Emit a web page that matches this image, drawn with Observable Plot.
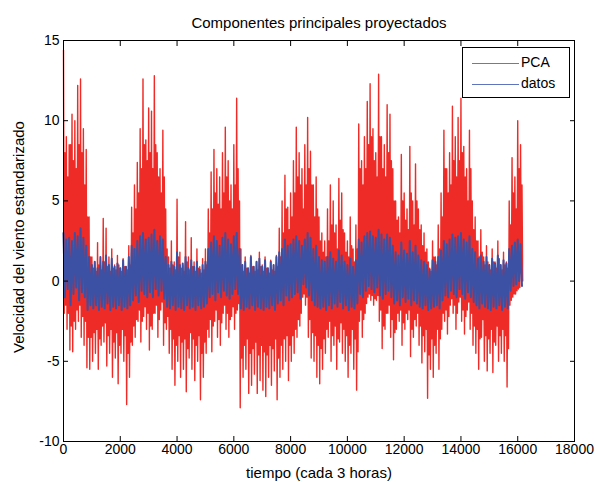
<!DOCTYPE html>
<html>
<head>
<meta charset="utf-8">
<script src="https://cdn.jsdelivr.net/npm/d3@7"></script>
<script src="https://cdn.jsdelivr.net/npm/@observablehq/plot@0.6"></script>
<style>
  body { margin: 0; background: #fff; }
  #wrap { position: relative; width: 597px; height: 482px; font-family: "Liberation Sans", Arial, sans-serif; }
  #legend { position: absolute; left: 462px; top: 47px; width: 106px; height: 49px; border: 1px solid #000; background: #fff; }
  .lg-row { position: absolute; left: 0; height: 20px; font-size: 14px; color: #000; }
  .lg-line { position: absolute; left: 9px; width: 47px; height: 0; top: 10px; }
  .lg-text { position: absolute; left: 58px; top: 1px; white-space: nowrap; }
</style>
</head>
<body>
<div id="wrap">
  <div id="chart"></div>
  <div id="legend">
    <div class="lg-row" style="top:5px"><div class="lg-line" style="border-top:1px solid #f04a44"></div><div class="lg-text">PCA</div></div>
    <div class="lg-row" style="top:26px"><div class="lg-line" style="border-top:1px solid #6073bd"></div><div class="lg-text">datos</div></div>
  </div>
</div>
<script>
// ---- data (samples every 100 time steps) ----
const title = "Componentes principales proyectados";
const xLabel = "tiempo (cada 3 horas)";
const yLabel = "Velocidad del viento estandarizado";
const seriesNames = ["PCA", "datos"];
const xTicks = [0, 2000, 4000, 6000, 8000, 10000, 12000, 14000, 16000, 18000];
const yTicks = [-10, -5, 0, 5, 10, 15];
const sampleStep = 100;

// PCA: highest spike in each 100-step window
const pcaHigh = [
  14.4, 9.0, 8.5, 10.4, 10.0, 12.2, 12.6, 9.5, 8.2, 4.0,
  1.5, 1.2, 2.4, 1.0, 3.9, 3.3, 1.5, 2.0, 1.0, 1.6,
  0.8, 1.4, 0.9, 2.2, 4.6, 6.0, 7.4, 9.5, 12.6, 8.8,
  10.8, 10.6, 12.8, 8.0, 7.0, 9.4, 4.5, 1.5, 2.5, 1.2,
  5.1, 1.8, 1.0, 3.7, 1.5, 2.7, 1.2, 2.0, 0.9, 1.4,
  2.0, 4.5, 6.8, 8.2, 7.0, 6.5, 8.0, 9.6, 7.5, 6.0,
  8.5, 11.4, 5.0, 1.0, 1.5, 0.8, 1.6, 0.9, 1.2, 1.8,
  1.0, 1.5, 0.8, 1.3, 1.0, 1.6, 3.3, 5.0, 6.6, 4.6,
  5.5, 7.5, 9.6, 8.0, 7.0, 8.5, 10.2, 8.1, 6.0, 6.5,
  4.0, 3.0, 2.5, 4.5, 6.0, 5.0, 3.5, 6.4, 5.5, 3.0,
  2.5, 4.0, 2.0, 3.5, 9.8, 7.5, 9.0, 11.2, 12.3, 9.5,
  8.0, 12.9, 9.0, 8.5, 11.0, 10.4, 7.0, 5.0, 4.0, 7.9,
  5.5, 4.5, 8.4, 5.0, 7.3, 4.5, 3.5, 3.0, 2.0, 0.8,
  2.5, 1.5, 3.5, 5.5, 9.4, 7.0, 8.0, 10.9, 9.0, 10.2,
  11.4, 8.4, 7.0, 9.4, 5.0, 4.0, 2.5, 3.2, 1.5, 2.2,
  1.0, 2.0, 1.2, 2.5, 1.0, 1.8, 1.2, 5.0, 7.7, 6.5,
  10.0, 8.5
];
// PCA: lowest spike in each window
const pcaLow = [
  -2.0, -3.0, -4.3, -4.4, -3.0, -2.5, -3.5, -4.0, -5.4, -5.5,
  -5.0, -4.5, -5.5, -4.0, -3.8, -5.3, -4.5, -6.0, -4.8, -6.4,
  -4.5, -5.0, -7.7, -6.0, -4.0, -3.5, -2.5, -3.8, -2.2, -3.0,
  -4.3, -3.0, -2.0, -3.5, -1.8, -4.0, -3.0, -4.5, -5.5, -6.5,
  -5.0, -6.0, -5.5, -6.9, -4.8, -5.5, -6.2, -5.0, -7.4, -6.0,
  -4.5, -3.5, -4.4, -2.5, -3.5, -4.0, -2.0, -3.0, -3.5, -2.2,
  -3.0, -1.8, -7.9, -6.0, -5.5, -7.0, -6.5, -5.8, -7.0, -6.2,
  -6.8, -7.2, -6.0, -6.5, -5.6, -7.4, -6.0, -5.5, -5.0, -6.2,
  -5.0, -4.5, -3.5, -2.8, -1.0, -1.5, -3.5, -4.8, -5.0, -6.0,
  -6.4, -5.5, -4.5, -3.5, -5.0, -4.0, -5.5, -3.8, -4.5, -5.0,
  -6.0, -4.5, -5.5, -6.8, -2.5, -3.5, -2.0, -1.0, -1.2, -1.5,
  -1.2, -2.5, -4.2, -3.0, -2.0, -3.5, -4.9, -3.0, -2.5, -4.0,
  -3.0, -2.4, -4.7, -3.5, -2.8, -4.0, -5.1, -4.4, -7.3, -5.5,
  -6.0, -4.5, -5.5, -3.0, -2.5, -3.3, -1.5, -2.0, -3.0, -1.3,
  -2.5, -3.3, -1.8, -3.0, -4.0, -4.5, -5.5, -3.5, -5.0, -5.6,
  -4.5, -5.7, -4.0, -5.0, -4.5, -5.0, -6.6, -1.5, -1.0, -0.8,
  -0.5, 0.5
];
// PCA: typical (dense) upper level in each window
const pcaMidHigh = [
  8.0, 6.5, 8.5, 7.5, 7.0, 8.5, 8.0, 6.0, 4.0, 1.5,
  0.8, 0.6, 1.0, 0.7, 1.2, 0.9, 0.6, 0.8, 0.7, 1.0,
  0.6, 0.9, 0.7, 1.0, 3.0, 4.5, 5.5, 7.0, 8.5, 7.5,
  8.0, 7.0, 8.5, 6.5, 5.5, 6.5, 2.0, 0.8, 1.0, 0.7,
  1.5, 0.8, 0.6, 1.2, 0.7, 0.9, 0.6, 0.8, 0.5, 0.7,
  1.0, 3.0, 4.5, 5.5, 4.8, 4.5, 5.5, 6.5, 5.0, 4.5,
  6.0, 7.0, 2.0, 0.6, 0.8, 0.5, 0.9, 0.6, 0.7, 0.9,
  0.6, 0.8, 0.5, 0.7, 0.6, 0.9, 1.5, 3.0, 4.5, 3.2,
  4.0, 5.5, 6.5, 6.0, 4.5, 6.0, 7.0, 6.0, 4.0, 4.5,
  2.5, 1.8, 1.5, 2.5, 3.5, 3.0, 2.0, 3.8, 3.2, 1.8,
  1.5, 2.2, 1.2, 2.0, 7.0, 6.0, 7.0, 8.5, 9.0, 7.5,
  6.5, 9.0, 7.0, 6.5, 8.0, 7.5, 5.0, 3.8, 3.0, 5.0,
  3.8, 3.2, 5.5, 3.5, 5.0, 3.2, 2.2, 1.8, 1.2, 0.6,
  1.5, 1.0, 2.0, 4.0, 7.0, 5.5, 6.0, 7.5, 6.5, 7.5,
  8.0, 6.5, 5.0, 7.0, 3.2, 2.5, 1.5, 1.8, 1.0, 1.2,
  0.7, 1.2, 0.8, 1.4, 0.7, 1.0, 0.8, 3.5, 5.5, 4.5,
  7.0, 6.0
];
// PCA: typical (dense) lower level in each window
const pcaMidLow = [
  -1.5, -2.0, -2.8, -2.5, -1.8, -1.5, -2.2, -2.5, -3.5, -3.5,
  -3.2, -3.0, -3.6, -2.8, -2.6, -3.4, -3.0, -3.8, -3.2, -4.0,
  -3.0, -3.4, -4.5, -3.8, -2.8, -2.4, -1.8, -2.5, -1.6, -2.0,
  -2.8, -2.0, -1.5, -2.4, -1.3, -2.6, -2.2, -3.0, -3.6, -4.0,
  -3.4, -3.8, -3.6, -4.2, -3.2, -3.6, -4.0, -3.4, -4.5, -3.8,
  -3.0, -2.4, -2.8, -1.8, -2.4, -2.6, -1.5, -2.0, -2.4, -1.6,
  -2.0, -1.4, -4.8, -4.0, -3.6, -4.5, -4.2, -3.8, -4.6, -4.0,
  -4.4, -4.6, -4.0, -4.2, -3.6, -4.8, -4.0, -3.6, -3.4, -4.0,
  -3.4, -3.0, -2.4, -2.0, -0.8, -1.0, -2.4, -3.2, -3.4, -4.0,
  -4.2, -3.6, -3.0, -2.5, -3.4, -2.8, -3.6, -2.6, -3.0, -3.4,
  -4.0, -3.0, -3.6, -4.4, -1.8, -2.4, -1.4, -0.8, -0.9, -1.1,
  -0.9, -1.8, -2.8, -2.0, -1.5, -2.4, -3.2, -2.0, -1.8, -2.6,
  -2.0, -1.8, -3.0, -2.4, -2.0, -2.8, -3.4, -3.0, -4.6, -3.6,
  -4.0, -3.0, -3.6, -2.0, -1.8, -2.2, -1.1, -1.5, -2.0, -1.0,
  -1.8, -2.2, -1.3, -2.0, -2.8, -3.0, -3.6, -2.4, -3.4, -3.6,
  -3.0, -3.8, -2.8, -3.4, -3.0, -3.4, -4.2, -1.2, -0.8, -0.6,
  -0.4, 0.0
];
// datos: upper level in each window
const datosHigh = [
  3.0, 2.6, 2.7, 2.5, 3.0, 2.8, 3.3, 2.7, 2.2, 1.5,
  1.0, 1.2, 0.8, 1.5, 1.2, 1.6, 1.0, 1.4, 0.9, 1.1,
  0.8, 1.3, 0.9, 1.5, 2.2, 2.0, 2.5, 2.8, 3.0, 2.6,
  2.7, 2.9, 3.2, 2.5, 2.8, 2.6, 1.5, 1.0, 1.2, 0.9,
  1.8, 1.0, 1.1, 1.5, 0.8, 1.3, 0.9, 1.2, 0.7, 1.0,
  1.2, 2.0, 2.4, 2.8, 2.5, 2.2, 2.7, 3.0, 2.6, 2.3,
  2.8, 3.0, 2.0, 1.0, 1.2, 0.8, 1.5, 0.9, 1.2, 1.4,
  0.9, 1.3, 0.8, 1.2, 1.0, 1.5, 1.8, 2.0, 2.6, 2.2,
  2.3, 2.6, 2.8, 2.5, 2.2, 2.6, 3.0, 2.7, 2.0, 2.2,
  1.5, 1.3, 1.2, 1.5, 1.8, 1.4, 1.2, 1.9, 1.6, 1.2,
  1.0, 1.4, 0.9, 1.3, 2.6, 2.4, 2.8, 3.0, 3.1, 2.8,
  2.7, 3.2, 2.9, 2.6, 2.9, 2.7, 2.2, 1.8, 1.6, 2.4,
  1.9, 1.7, 2.5, 1.8, 2.2, 1.6, 1.3, 1.2, 1.0, 0.7,
  1.3, 1.2, 1.5, 1.9, 2.5, 2.3, 2.6, 2.9, 2.7, 2.8,
  3.0, 2.6, 2.4, 2.8, 2.0, 1.8, 1.4, 1.6, 1.2, 1.5,
  1.0, 1.4, 1.1, 1.6, 1.0, 1.3, 1.1, 2.0, 2.2, 2.4,
  2.6, 2.3
];
// datos: lower level in each window
const datosLow = [
  -1.0, -0.5, -1.5, -0.8, -0.4, -1.2, -0.7, -1.0, -1.8, -1.5,
  -1.7, -1.5, -1.8, -1.6, -1.7, -1.4, -1.8, -1.6, -1.7, -1.5,
  -1.8, -1.6, -1.7, -1.5, -1.2, -0.9, -1.3, -0.6, -0.8, -1.0,
  -0.7, -1.0, -0.5, -0.9, -0.6, -1.1, -1.6, -1.7, -1.5, -1.8,
  -1.6, -1.7, -1.8, -1.5, -1.7, -1.6, -1.8, -1.5, -1.7, -1.6,
  -1.4, -1.0, -0.8, -1.2, -0.7, -1.0, -0.6, -0.9, -1.1, -0.8,
  -0.5, -0.8, -1.7, -1.8, -1.6, -1.7, -1.5, -1.8, -1.6, -1.7,
  -1.8, -1.6, -1.7, -1.5, -1.8, -1.4, -1.2, -1.5, -0.9, -1.2,
  -1.0, -0.8, -0.7, -1.1, -0.2, -0.4, -0.9, -1.2, -1.5, -1.6,
  -1.7, -1.6, -1.8, -1.5, -1.7, -1.4, -1.6, -1.3, -1.7, -1.5,
  -1.8, -1.6, -1.7, -1.4, -0.8, -1.0, -0.6, -0.3, -0.5, -0.7,
  -0.4, -0.9, -1.1, -0.8, -0.6, -1.0, -1.4, -1.2, -1.5, -1.0,
  -1.3, -1.1, -1.5, -1.2, -1.4, -1.6, -1.7, -1.5, -1.8, -1.7,
  -1.6, -1.5, -1.7, -1.2, -0.9, -1.0, -0.6, -0.8, -1.0, -0.5,
  -0.8, -1.1, -0.7, -1.0, -1.3, -1.5, -1.7, -1.4, -1.6, -1.7,
  -1.8, -1.6, -1.7, -1.5, -1.8, -1.6, -1.7, -0.6, -0.3, -0.2,
  0.0, -0.3
];

// ---- build line tables: within each window the signal swings between the read levels ----
function swings(name, levels) {
  const rows = [];
  const k = levels.length;
  for (let i = 0; i < levels[0].length; i++) {
    for (let j = 0; j < k; j++) {
      rows.push({series: name, t: i * sampleStep + (j * sampleStep) / k, v: levels[j][i]});
    }
  }
  return rows;
}
const pcaRows = swings(seriesNames[0], [pcaHigh, pcaLow, pcaMidHigh, pcaMidLow]);
const datosRows = swings(seriesNames[1], [datosHigh, datosLow]);

const RED = "#ee2b26";
const BLUE = "#3c51a3";
const FONT = "'Liberation Sans', Arial, sans-serif";

const chart = Plot.plot({
  width: 597,
  height: 482,
  marginLeft: 63,
  marginRight: 23,
  marginTop: 40,
  marginBottom: 41,
  style: {fontFamily: FONT, fontSize: "14px", background: "#fff", color: "#000"},
  x: {domain: [0, 18000]},
  y: {domain: [-10, 15]},
  marks: [
    Plot.line(pcaRows, {x: "t", y: "v", stroke: RED, strokeWidth: 1.4}),
    Plot.line(datosRows, {x: "t", y: "v", stroke: BLUE, strokeWidth: 2}),
    Plot.frame({stroke: "#000", strokeWidth: 1}),
    Plot.axisX({anchor: "bottom", ticks: xTicks, tickSize: -5, tickPadding: 8, tickFormat: d => String(d), label: null, fontSize: 14}),
    Plot.axisX({anchor: "top", ticks: xTicks, tickSize: -5, tickFormat: () => "", label: null}),
    Plot.axisY({anchor: "left", ticks: yTicks, tickSize: -5, tickPadding: 9, tickFormat: d => String(d), label: null, fontSize: 14}),
    Plot.axisY({anchor: "right", ticks: yTicks, tickSize: -5, tickFormat: () => "", label: null}),
    Plot.text([title], {frameAnchor: "top", dy: -23, text: d => d, fontSize: 15, fill: "#000"}),
    Plot.text([xLabel], {frameAnchor: "bottom", dy: 36, text: d => d, fontSize: 15, fill: "#000"}),
    Plot.text([yLabel], {frameAnchor: "left", textAnchor: "middle", dx: -44, dy: -4, rotate: -90, text: d => d, fontSize: 15, fill: "#000"})
  ]
});
document.getElementById("chart").appendChild(chart);
</script>
</body>
</html>
